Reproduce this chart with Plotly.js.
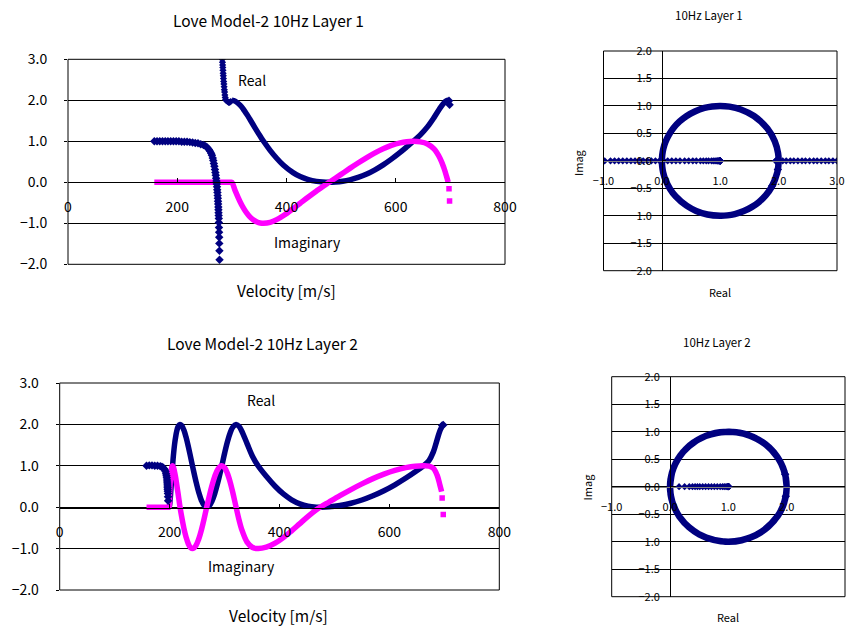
<!DOCTYPE html>
<html>
<head>
<meta charset="utf-8">
<script src="https://cdn.plot.ly/plotly-3.0.1.min.js"></script>
<style>
  html, body { margin: 0; padding: 0; background: #ffffff; }
  #chart { width: 846px; height: 628px; }
</style>
</head>
<body>
<div id="chart"></div>
<script>
// ---------- Layer 1 (10 Hz) ----------
// branch before the singularity: imaginary part is zero
const vel1Pre = [158,163,168,173,178,183,188,193,198,203,208,213,218,223,228,233,238,243,248,252,255,258,260,262,263.5,265,266,267,268,269,269.8,270.5,271.2,271.8,272.3,272.8,273.2,273.6,274,274.3,274.6,274.9,275.2,275.4,275.6,275.8,276,276.2,276.4,276.6,276.8,277,277.2,277.4];
const re1Pre  = [1,1,1,1,1,1,1,1,1,1,0.99,0.99,0.99,0.98,0.97,0.96,0.95,0.93,0.91,0.88,0.85,0.8,0.76,0.71,0.66,0.59,0.53,0.46,0.39,0.31,0.24,0.17,0.1,0.03,-0.04,-0.11,-0.18,-0.25,-0.32,-0.39,-0.46,-0.53,-0.6,-0.67,-0.74,-0.81,-0.88,-0.98,-1.1,-1.22,-1.34,-1.49,-1.67,-1.89];
const im1Pre  = [0,0,0,0,0,0,0,0,0,0,0,0,0,0,0,0,0,0,0,0,0,0,0,0,0,0,0,0,0,0,0,0,0,0,0,0,0,0,0,0,0,0,0,0,0,0,0,0,0,0,0,0,0,0];
// branch just after the singularity, still on the real axis
const vel1Jump = [282.5,282.8,283.1,283.4,283.7,284,284.3,284.6,285,285.4,285.8,286.2,286.7,287.2,287.8,288.5,290,292,294,296,298];
const re1Jump  = [3.0,2.93,2.86,2.8,2.73,2.66,2.6,2.53,2.46,2.4,2.33,2.26,2.2,2.13,2.07,2.02,1.99,1.97,1.95,1.95,1.97];
const im1Jump  = [0,0,0,0,0,0,0,0,0,0,0,0,0,0,0,0,0,0,0,0,0];
// main branch
const vel1 = [300,306,315,321,327,333,339,346,352,358,370,382,394,412,425,440,455,466,478,490,503,516,531,547,562,577,592,608,620,632,645,658,670,681,688,693,696];
const re1  = [2.000,1.979,1.881,1.782,1.665,1.537,1.404,1.249,1.122,1.000,0.780,0.587,0.422,0.235,0.140,0.066,0.022,0.006,0.000,0.006,0.025,0.059,0.118,0.202,0.304,0.425,0.565,0.729,0.863,1.000,1.158,1.352,1.578,1.808,1.934,1.990,2.000];
const im1  = [0.000,-0.203,-0.474,-0.624,-0.747,-0.843,-0.915,-0.969,-0.993,-1.000,-0.976,-0.911,-0.816,-0.644,-0.511,-0.357,-0.210,-0.106,0.000,0.106,0.222,0.339,0.470,0.603,0.718,0.818,0.900,0.963,0.991,1.000,0.987,0.936,0.816,0.589,0.357,0.144,0.000];
// last samples
const vel1End = [697.5,698.5];
const re1End  = [1.988,1.891];
const im1End  = [-0.156,-0.454];

// ---------- Layer 2 (10 Hz) ----------
const vel2Pre = [158,163,168,173,178,183,186,188,190,191.5,192.5,193.5,194.3,194.9,195.3,195.6,195.9,196.1,196.3,196.5,196.7,196.9,197.1,197.3];
const re2Pre  = [1,1.01,1.01,1,1,0.99,0.98,0.96,0.93,0.9,0.86,0.81,0.76,0.71,0.66,0.61,0.56,0.51,0.47,0.43,0.385,0.33,0.25,0.155];
const im2Pre  = [0,0,0,0,0,0,0,0,0,0,0,0,0,0,0,0,0,0,0,0,0,0,0,0];
const vel2 = [199,200,201,202,203,204,205.5,207,209,211,213,216,219,222,226,230,234,238,243,248,253,258,263,267.5,272,277,282,288,295,300,305,310,315,321,326,331,341,351,361,376,392,407,422,437,452,467,474,490,510,530,550,570,590,610,630,647,662,672,680,687,692,695];
const re2  = [0.000,0.049,0.181,0.357,0.546,0.741,1.017,1.259,1.515,1.695,1.839,1.961,2.000,1.972,1.862,1.688,1.469,1.225,0.913,0.619,0.361,0.160,0.037,0.000,0.033,0.144,0.324,0.611,1.000,1.297,1.568,1.787,1.935,2.000,1.958,1.849,1.537,1.227,1.000,0.746,0.506,0.321,0.179,0.082,0.025,0.002,0.000,0.008,0.040,0.095,0.174,0.276,0.398,0.541,0.704,0.856,1.000,1.127,1.337,1.639,1.848,1.927];
const im2  = [0.000,0.309,0.574,0.766,0.891,0.966,1.000,0.966,0.857,0.719,0.545,0.276,0.000,-0.233,-0.508,-0.725,-0.883,-0.974,-0.996,-0.925,-0.769,-0.543,-0.269,0.000,0.254,0.517,0.737,0.921,1.000,0.955,0.823,0.617,0.355,0.000,-0.287,-0.528,-0.843,-0.974,-1.000,-0.967,-0.870,-0.734,-0.571,-0.396,-0.222,-0.063,0.000,0.125,0.279,0.426,0.564,0.690,0.799,0.889,0.955,0.990,1.000,0.992,0.942,0.769,0.530,0.375];
const vel2End = [696,698];
const re2End  = [1.974,1.985];
const im2End  = [0.225,-0.174];

// ---------- styling ----------
const NAVY = '#000080';
const MAGENTA = '#FF00FF';
const FONT = '"Noto Sans CJK JP", "Noto Sans", sans-serif';

function lineTrace(x, y, color, width, xa, ya) {
  return { x: x, y: y, type: 'scatter', mode: 'lines',
    line: { color: color, width: width, shape: 'spline', smoothing: 1, simplify: false },
    xaxis: xa, yaxis: ya, hoverinfo: 'skip', showlegend: false };
}
function dotTrace(x, y, color, symbol, size, xa, ya) {
  return { x: x, y: y, type: 'scatter', mode: 'markers',
    marker: { color: color, symbol: symbol, size: size, line: { width: 0 } },
    xaxis: xa, yaxis: ya, hoverinfo: 'skip', showlegend: false };
}

const imag1All = { v: vel1Pre.concat(vel1Jump, vel1), y: im1Pre.concat(im1Jump, im1) };
const imag2All = { v: vel2Pre.concat(vel2), y: im2Pre.concat(im2) };

const traces = [
  // Layer 1 versus velocity
  lineTrace(vel1, re1, NAVY, 5.5, 'x', 'y'),
  dotTrace(vel1Jump, re1Jump, NAVY, 'diamond', 5.5, 'x', 'y'),
  lineTrace(imag1All.v, imag1All.y, MAGENTA, 5.5, 'x', 'y'),
  dotTrace(vel1Pre, re1Pre, NAVY, 'diamond', 6.5, 'x', 'y'),
  dotTrace(vel1End, re1End, NAVY, 'diamond', 6.5, 'x', 'y'),
  dotTrace(vel1End, im1End, MAGENTA, 'square', 5.5, 'x', 'y'),
  // Layer 1 complex plane
  dotTrace(re1Pre, im1Pre, NAVY, 'diamond', 5.5, 'x2', 'y2'),
  dotTrace(re1Jump, im1Jump, NAVY, 'diamond', 5.5, 'x2', 'y2'),
  lineTrace(re1, im1, NAVY, 6.5, 'x2', 'y2'),
  dotTrace(re1End, im1End, NAVY, 'diamond', 6.5, 'x2', 'y2'),
  // Layer 2 versus velocity
  lineTrace(vel2, re2, NAVY, 5.5, 'x3', 'y3'),
  lineTrace(imag2All.v, imag2All.y, MAGENTA, 5.5, 'x3', 'y3'),
  dotTrace(vel2Pre, re2Pre, NAVY, 'diamond', 6.5, 'x3', 'y3'),
  dotTrace(vel2End, re2End, NAVY, 'diamond', 6.5, 'x3', 'y3'),
  dotTrace(vel2End, im2End, MAGENTA, 'square', 5.5, 'x3', 'y3'),
  // Layer 2 complex plane
  dotTrace(re2Pre, im2Pre, NAVY, 'diamond', 5.5, 'x4', 'y4'),
  lineTrace(re2, im2, NAVY, 6.5, 'x4', 'y4'),
  dotTrace(re2End, im2End, NAVY, 'diamond', 6.5, 'x4', 'y4')
];

// pixel helpers (plot uses a zero margin, so paper == pixels)
const W = 846, H = 628;
const px = v => v / W;
const py = v => 1 - v / H;

const velXAxis = (d0, d1, pos) => ({
  domain: [px(d0), px(d1)], range: [0, 800], anchor: 'free', position: pos,
  tick0: 0, dtick: 200, tickformat: 'd', showgrid: false, zeroline: false,
  showline: true, linecolor: '#000000', linewidth: 1,
  ticks: 'inside', ticklen: 4, tickcolor: '#000000',
  ticklabelstandoff: 12,
  tickfont: { family: FONT, size: 14, color: '#000000' }, fixedrange: true
});
const velYAxis = (xa, top, bottom) => ({
  domain: [py(bottom), py(top)], range: [-2, 3], anchor: xa,
  tick0: 0, dtick: 1, tickformat: '.1f', showgrid: true, gridcolor: '#000000', gridwidth: 1,
  zeroline: false, showline: false, ticks: 'outside', ticklen: 3, tickcolor: '#000000',
  ticklabelstandoff: 14,
  tickfont: { family: FONT, size: 14, color: '#000000' }, fixedrange: true
});
const cxAxis = (d0, d1, pos) => ({
  domain: [px(d0), px(d1)], range: [-1, 3], anchor: 'free', position: pos,
  tick0: 0, dtick: 1, tickformat: '.1f', showgrid: false, zeroline: false,
  showline: true, linecolor: '#808080', linewidth: 1, ticks: '',
  ticklabelstandoff: 10,
  tickfont: { family: FONT, size: 11, color: '#000000' }, fixedrange: true
});
const cyAxis = (top, bottom, pos) => ({
  domain: [py(bottom), py(top)], range: [-2, 2], anchor: 'free', position: pos,
  tick0: 0, dtick: 0.5, tickformat: '.1f', showgrid: true, gridcolor: '#000000', gridwidth: 1,
  zeroline: false, showline: true, linecolor: '#000000', linewidth: 1,
  ticks: 'inside', ticklen: 3, tickcolor: '#000000',
  ticklabelstandoff: 8,
  tickfont: { family: FONT, size: 11, color: '#000000' }, fixedrange: true
});

function border(xa, ya) {
  return { type: 'rect', xref: xa + ' domain', yref: ya + ' domain', x0: 0, x1: 1, y0: 0, y1: 1,
    line: { color: '#000000', width: 1 }, fillcolor: 'rgba(0,0,0,0)', layer: 'above' };
}
function label(text, x, y, size, extra) {
  return Object.assign({ text: text, x: x, y: y, xref: 'paper', yref: 'paper',
    xanchor: 'center', yanchor: 'middle', showarrow: false,
    font: { family: FONT, size: size, color: '#000000' } }, extra || {});
}
function dataLabel(text, x, y, xa, ya) {
  return { text: text, x: x, y: y, xref: xa, yref: ya, xanchor: 'center', yanchor: 'middle',
    showarrow: false, font: { family: FONT, size: 14, color: '#000000' } };
}

const layout = {
  width: W, height: H,
  margin: { l: 0, r: 0, t: 0, b: 0, pad: 0 },
  paper_bgcolor: '#ffffff', plot_bgcolor: '#ffffff',
  showlegend: false,
  font: { family: FONT, color: '#000000' },
  xaxis: velXAxis(68, 505, py(181.7)),
  yaxis: velYAxis('x', 59.3, 264.3),
  xaxis2: cxAxis(603.5, 837, py(160.8)),
  yaxis2: cyAxis(51, 270.7, px(662)),
  xaxis3: velXAxis(59.7, 499.3, py(507.5)),
  yaxis3: velYAxis('x3', 383, 590),
  xaxis4: cxAxis(611.7, 845, py(486.7)),
  yaxis4: cyAxis(376.7, 596.7, px(670)),
  shapes: [border('x', 'y'), border('x2', 'y2'), border('x3', 'y3'), border('x4', 'y4')],
  annotations: [
    label('Love Model-2 10Hz Layer 1', px(268.5), py(20), 15.5),
    label('Velocity [m/s]', px(286), py(290), 15.5),
    dataLabel('Real', 337, 2.5, 'x', 'y'),
    dataLabel('Imaginary', 439, -1.45, 'x', 'y'),
    label('10Hz Layer 1', px(709), py(15), 11.5),
    label('Imag', px(578), py(163), 11, { textangle: -90 }),
    label('Real', px(720), py(292), 11),
    label('Love Model-2 10Hz Layer 2', px(262), py(343), 15.5),
    label('Velocity [m/s]', px(278.7), py(615), 15.5),
    dataLabel('Real', 366, 2.58, 'x3', 'y3'),
    dataLabel('Imaginary', 331, -1.43, 'x3', 'y3'),
    label('10Hz Layer 2', px(716.7), py(341.7), 11.5),
    label('Imag', px(586.7), py(486.7), 11, { textangle: -90 }),
    label('Real', px(728), py(616.7), 11)
  ]
};

Plotly.newPlot('chart', traces, layout, { staticPlot: true, displayModeBar: false });
</script>
</body>
</html>
